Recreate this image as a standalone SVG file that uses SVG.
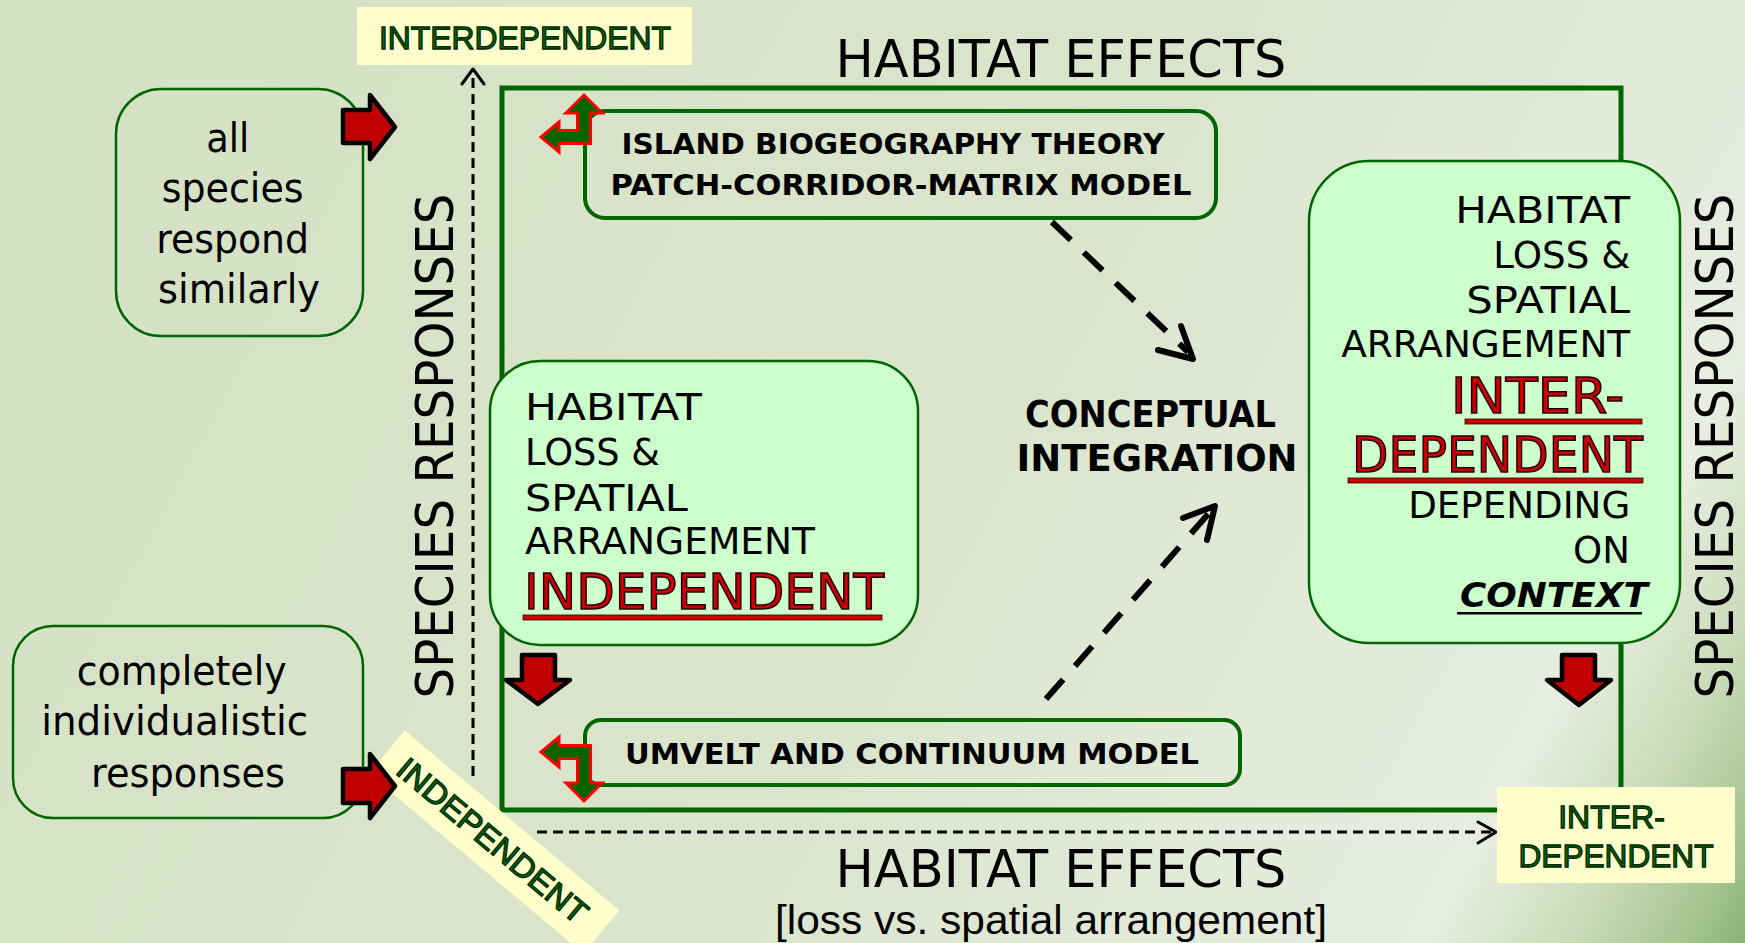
<svg xmlns="http://www.w3.org/2000/svg" width="1745" height="943" viewBox="0 0 1745 943">
  <defs>
    <linearGradient id="bg" gradientUnits="userSpaceOnUse" x1="0" y1="0" x2="1745" y2="943">
      <stop offset="0" stop-color="#d4e1c3"/>
      <stop offset="0.55" stop-color="#dbe5cd"/>
      <stop offset="0.86" stop-color="#e7ede0"/>
      <stop offset="0.92" stop-color="#cbdcba"/>
      <stop offset="0.97" stop-color="#a8c593"/>
      <stop offset="1" stop-color="#8ab277"/>
    </linearGradient>
    <style>
      .frame { fill: none; stroke: #006600; stroke-width: 5; }
      .card { fill: none; stroke: #006600; stroke-width: 2.5; }
      .model { fill: none; stroke: #006600; stroke-width: 4; }
      .soft { fill: #ccffcc; stroke: #006600; stroke-width: 2.5; }
      .tag { fill: #ffffcc; }
      .tagtxt { font-family: "Liberation Sans", Arial, sans-serif; font-size: 32px; fill: #006600; stroke: #002600; stroke-width: 1.3; text-anchor: middle; }
      .hand { font-family: "DejaVu Sans", sans-serif; fill: #000; }
      .handb { font-family: "DejaVu Sans", sans-serif; font-weight: bold; fill: #000; }
      .red { font-family: "DejaVu Sans", sans-serif; font-size: 50px; fill: #cc0000; stroke: #220000; stroke-width: 1.5; }
      .redline { fill: #cc0000; stroke: #330000; stroke-width: 0.8; }
      .dashthin { fill: none; stroke: #000; stroke-width: 3; stroke-dasharray: 10 6; }
      .dashbig { fill: none; stroke: #000; stroke-width: 6; stroke-dasharray: 26 18; }
      .headthin { fill: none; stroke: #000; stroke-width: 3; stroke-linecap: round; stroke-linejoin: round; }
      .headbig { fill: none; stroke: #000; stroke-width: 6; stroke-linecap: round; stroke-linejoin: round; }
      .block { fill: #c00000; stroke: #000; stroke-width: 4.5; stroke-linejoin: round; }
      .bend { fill: #006600; stroke: #ff0000; stroke-width: 3; stroke-linejoin: miter; }
    </style>
  </defs>

  <!-- backdrop -->
  <rect x="0" y="0" width="1745" height="943" fill="url(#bg)"/>

  <!-- outer habitat frame -->
  <rect class="frame" x="502" y="88" width="1119" height="722"/>

  <!-- axis titles -->
  <text class="hand" x="1061" y="77" font-size="52" text-anchor="middle" textLength="451" lengthAdjust="spacingAndGlyphs">HABITAT EFFECTS</text>
  <text class="hand" x="1061" y="887" font-size="52" text-anchor="middle" textLength="451" lengthAdjust="spacingAndGlyphs">HABITAT EFFECTS</text>
  <text x="1051" y="934" font-family="Liberation Sans, Arial, sans-serif" font-size="40" text-anchor="middle" textLength="552" lengthAdjust="spacingAndGlyphs">[loss vs. spatial arrangement]</text>
  <text class="hand" font-size="52" text-anchor="middle" transform="translate(453,446) rotate(-90)" textLength="505" lengthAdjust="spacingAndGlyphs">SPECIES RESPONSES</text>
  <text class="hand" font-size="52" text-anchor="middle" transform="translate(1733,446) rotate(-90)" textLength="505" lengthAdjust="spacingAndGlyphs">SPECIES RESPONSES</text>

  <!-- connectors -->
  <g id="connectors">
    <line class="dashthin" x1="473" y1="776" x2="473" y2="72"/>
    <polyline class="headthin" points="462,84 473,69 484,84"/>
    <line class="dashthin" x1="537" y1="832" x2="1493" y2="832"/>
    <polyline class="headthin" points="1478,822 1496,832 1478,843"/>
    <line class="dashbig" x1="1052" y1="222" x2="1188" y2="352"/>
    <polyline class="headbig" points="1158,350 1193,359 1181,326"/>
    <line class="dashbig" x1="1046" y1="699" x2="1210" y2="512"/>
    <polyline class="headbig" points="1183,518 1215,506 1207,540"/>
  </g>

  <!-- model boxes -->
  <g id="island-model">
    <rect class="model" x="585" y="111" width="631" height="107" rx="20"/>
    <text class="handb" font-size="29" text-anchor="middle">
      <tspan x="898" y="154" textLength="543" lengthAdjust="spacingAndGlyphs">ISLAND BIOGEOGRAPHY THEORY</tspan>
      <tspan x="901" y="195" textLength="581" lengthAdjust="spacingAndGlyphs">PATCH-CORRIDOR-MATRIX MODEL</tspan>
    </text>
    <path class="bend" d="M590.5,143.5 L559,143.5 L559,152 L541,137 L559,122 L559,130.5 L577.5,130.5 L577.5,113 L566,113 L584,95 L602,113 L590.5,113 Z"/>
  </g>

  <g id="umvelt-model">
    <rect class="model" x="585" y="720" width="655" height="65" rx="16"/>
    <text class="handb" x="912" y="764" font-size="29" text-anchor="middle" textLength="574" lengthAdjust="spacingAndGlyphs">UMVELT AND CONTINUUM MODEL</text>
    <path class="bend" d="M590.5,745.5 L590.5,783 L602,783 L584,801 L566,783 L577.5,783 L577.5,758.5 L559,758.5 L559,767 L541,752 L559,737 L559,745.5 Z"/>
  </g>

  <g id="independent-box">
    <rect class="soft" x="490" y="361" width="428" height="284" rx="50"/>
    <text class="hand" font-size="37">
      <tspan x="525" y="420" textLength="177" lengthAdjust="spacingAndGlyphs">HABITAT</tspan>
      <tspan x="525" y="465" textLength="135" lengthAdjust="spacingAndGlyphs">LOSS &amp;</tspan>
      <tspan x="525" y="511" textLength="163" lengthAdjust="spacingAndGlyphs">SPATIAL</tspan>
      <tspan x="525" y="554" textLength="290" lengthAdjust="spacingAndGlyphs">ARRANGEMENT</tspan>
    </text>
    <text class="red" x="524" y="609" textLength="360" lengthAdjust="spacingAndGlyphs">INDEPENDENT</text>
    <rect class="redline" x="523" y="615" width="359" height="5"/>
    <path class="block" d="M522,655 L555,655 L555,680 L570,680 L538,704 L506,680 L522,680 Z"/>
  </g>

  <g id="interdependent-box">
    <rect class="soft" x="1309" y="161" width="371" height="482" rx="60"/>
    <text class="hand" font-size="37" text-anchor="end">
      <tspan x="1642" y="223" textLength="175" lengthAdjust="spacingAndGlyphs">HABITAT</tspan>
      <tspan x="1642" y="268" textLength="137" lengthAdjust="spacingAndGlyphs">LOSS &amp;</tspan>
      <tspan x="1642" y="313" textLength="164" lengthAdjust="spacingAndGlyphs">SPATIAL</tspan>
      <tspan x="1642" y="357" textLength="289" lengthAdjust="spacingAndGlyphs">ARRANGEMENT</tspan>
      <tspan x="1642" y="518" textLength="222" lengthAdjust="spacingAndGlyphs">DEPENDING</tspan>
      <tspan x="1630" y="563" textLength="57" lengthAdjust="spacingAndGlyphs">ON</tspan>
    </text>
    <text class="red" text-anchor="end">
      <tspan x="1640" y="413" textLength="173" lengthAdjust="spacingAndGlyphs">INTER-</tspan>
      <tspan x="1643" y="472" textLength="291" lengthAdjust="spacingAndGlyphs">DEPENDENT</tspan>
    </text>
    <rect class="redline" x="1465" y="419" width="177" height="5"/>
    <rect class="redline" x="1348" y="478" width="295" height="5"/>
    <text x="1648" y="607" font-family="DejaVu Sans, sans-serif" font-size="34" font-weight="bold" font-style="italic" text-anchor="end" textLength="188" lengthAdjust="spacingAndGlyphs">CONTEXT</text>
    <rect x="1457" y="612" width="185" height="2.5" fill="#000"/>
    <path class="block" d="M1562,655 L1595,655 L1595,680 L1611,680 L1579,705 L1547,680 L1562,680 Z"/>
  </g>

  <g id="integration">
    <text class="handb" font-size="37" text-anchor="middle">
      <tspan x="1157" y="427" textLength="251" lengthAdjust="spacingAndGlyphs">CONCEPTUAL</tspan>
      <tspan x="1157" y="471" textLength="281" lengthAdjust="spacingAndGlyphs">INTEGRATION</tspan>
    </text>
  </g>

  <!-- axis end tags -->
  <g id="tag-top">
    <rect class="tag" x="357" y="7" width="335" height="58"/>
    <text class="tagtxt" x="525" y="49" textLength="292" lengthAdjust="spacingAndGlyphs">INTERDEPENDENT</text>
  </g>

  <g id="tag-right">
    <rect class="tag" x="1497" y="787" width="238" height="96"/>
    <text class="tagtxt">
      <tspan x="1616" y="828">INTER-</tspan>
      <tspan x="1616" y="867" textLength="195" lengthAdjust="spacingAndGlyphs">DEPENDENT</tspan>
    </text>
  </g>

  <g id="tag-corner" transform="translate(494,842) rotate(40)">
    <rect class="tag" x="-140" y="-28" width="280" height="56"/>
    <text class="tagtxt" x="-2" y="11" textLength="238" lengthAdjust="spacingAndGlyphs">INDEPENDENT</text>
  </g>

  <!-- species response cards -->
  <g id="all-similar">
    <rect class="card" x="116" y="89" width="247" height="247" rx="45"/>
    <text class="hand" font-size="40" text-anchor="middle">
      <tspan x="234" y="152" textLength="43" lengthAdjust="spacingAndGlyphs">all</tspan>
      <tspan x="239" y="202" textLength="142" lengthAdjust="spacingAndGlyphs">species</tspan>
      <tspan x="239" y="253" textLength="153" lengthAdjust="spacingAndGlyphs">respond</tspan>
      <tspan x="239" y="303" textLength="162" lengthAdjust="spacingAndGlyphs">similarly</tspan>
    </text>
    <path class="block" d="M343,110 L370,110 L370,95 L395,127 L370,159 L370,143 L343,143 Z"/>
  </g>

  <g id="individualistic">
    <rect class="card" x="13" y="626" width="350" height="192" rx="40"/>
    <text class="hand" font-size="40" text-anchor="middle">
      <tspan x="188" y="685" textLength="210" lengthAdjust="spacingAndGlyphs">completely</tspan>
      <tspan x="181" y="735" textLength="267" lengthAdjust="spacingAndGlyphs">individualistic</tspan>
      <tspan x="188" y="787" textLength="194" lengthAdjust="spacingAndGlyphs">responses</tspan>
    </text>
    <path class="block" d="M343,769 L370,769 L370,754 L395,786 L370,818 L370,803 L343,803 Z"/>
  </g>
</svg>
